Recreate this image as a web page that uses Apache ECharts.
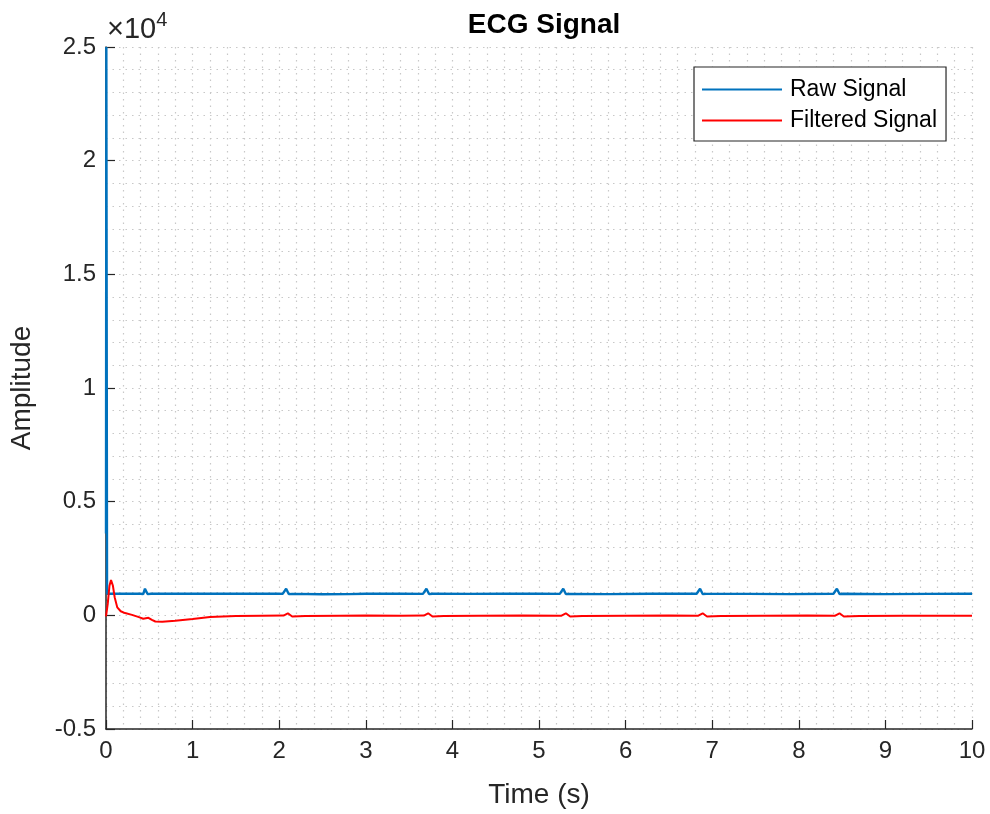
<!DOCTYPE html>
<html>
<head>
<meta charset="utf-8">
<script src="https://cdn.jsdelivr.net/npm/echarts@6/dist/echarts.min.js"></script>
<style>
  html, body { margin: 0; padding: 0; background: #fff; }
  #chart { width: 990px; height: 814px; }
</style>
</head>
<body>
<div id="chart"></div>
<script>
// raw ECG samples (time in s, amplitude)
const rawTime = [0, 0.004, 0.012, 0.2, 0.40, 0.43, 0.45, 0.48, 0.52, 1.0, 1.5, 2.0, 2.04, 2.06, 2.08, 2.11, 2.15, 2.5, 2.8, 3.0, 3.4, 3.66, 3.68, 3.70, 3.73, 3.77, 4.2, 4.6, 5.0, 5.24, 5.26, 5.28, 5.31, 5.35, 5.8, 6.3, 6.82, 6.84, 6.86, 6.89, 6.93, 7.4, 7.9, 8.40, 8.42, 8.44, 8.47, 8.51, 9.0, 9.5, 10.0]
const rawValue = [3600, 25000, 950, 955, 950, 930, 1170, 935, 950, 955, 950, 950, 945, 930, 1170, 935, 945, 930, 935, 950, 950, 945, 930, 1170, 935, 950, 945, 955, 950, 945, 930, 1170, 935, 945, 935, 950, 950, 930, 1170, 935, 945, 945, 935, 950, 930, 1170, 935, 950, 935, 945, 950]

// filtered signal
const filtTime = [0, 0.02, 0.04, 0.058, 0.08, 0.1, 0.13, 0.17, 0.22, 0.3, 0.38, 0.43, 0.49, 0.53, 0.57, 0.65, 0.8, 1.0, 1.2, 1.5, 1.8, 2.05, 2.10, 2.15, 2.3, 2.7, 3.0, 3.4, 3.67, 3.72, 3.77, 3.9, 4.3, 4.8, 5.26, 5.31, 5.36, 5.5, 6.0, 6.5, 6.84, 6.89, 6.94, 7.1, 7.6, 8.1, 8.42, 8.47, 8.52, 8.7, 9.2, 9.6, 10.0]
const filtValue = [-50, 500, 1300, 1550, 1300, 800, 350, 180, 100, 20, -80, -150, -110, -200, -270, -280, -240, -160, -70, -30, -15, -10, 90, -50, -30, -15, -10, -20, -10, 90, -50, -30, -20, -10, -15, 90, -50, -30, -20, -10, -15, 90, -50, -30, -20, -10, -15, 90, -50, -30, -20, -15, -20]

const yTicks = ['-0.5', '0', '0.5', '1', '1.5', '2', '2.5']

const textColor = '#262626'
const fontFamily = 'Liberation Sans, Arial, sans-serif'
const gridDots = { color: '#c8c8c8', width: 1.2, type: [1.5, 5] }

const chart = echarts.init(document.getElementById('chart'))

chart.setOption({
  backgroundColor: '#fff',
  animation: false,
  title: {
    text: 'ECG Signal',
    left: 539,
    textAlign: 'center',
    top: 6,
    textStyle: { fontSize: 28, fontWeight: 'bold', color: '#000', fontFamily: fontFamily }
  },
  legend: {
    orient: 'vertical',
    left: 694,
    top: 67,
    padding: [11, 9, 9, 8],
    itemGap: 8,
    itemWidth: 80,
    itemHeight: 2,
    icon: 'rect',
    borderColor: '#262626',
    borderWidth: 1.2,
    backgroundColor: '#fff',
    textStyle: { fontSize: 23, color: '#000', fontFamily: fontFamily, padding: [0, 0, 0, 3] },
    data: ['Raw Signal', 'Filtered Signal']
  },
  grid: { left: 106, right: 18, top: 47, bottom: 85 },
  graphic: [{
    type: 'text',
    left: 107,
    top: 10,
    style: {
      text: '{a|×10}{b|4}',
      rich: {
        a: { fontSize: 29, fill: textColor, fontFamily: fontFamily, verticalAlign: 'bottom' },
        b: { fontSize: 20, fill: textColor, fontFamily: fontFamily, verticalAlign: 'top', padding: [0, 0, 14, 0] }
      }
    }
  }],
  xAxis: {
    type: 'value',
    min: 0,
    max: 10,
    interval: 1,
    name: 'Time (s)',
    nameLocation: 'middle',
    nameGap: 52,
    nameTextStyle: { fontSize: 28, color: textColor, fontFamily: fontFamily },
    axisLine: { onZero: false, lineStyle: { color: textColor, width: 1.5 } },
    axisTick: { inside: true, length: 9, lineStyle: { color: textColor, width: 1.2 } },
    axisLabel: { fontSize: 24, color: textColor, fontFamily: fontFamily, margin: 10 },
    splitLine: { show: true, lineStyle: gridDots },
    minorTick: { show: false, splitNumber: 5 },
    minorSplitLine: { show: true, lineStyle: gridDots }
  },
  yAxis: {
    type: 'value',
    min: -5000,
    max: 25000,
    interval: 5000,
    name: 'Amplitude',
    nameLocation: 'middle',
    nameGap: 70,
    nameTextStyle: { fontSize: 28, color: textColor, fontFamily: fontFamily },
    axisLine: { show: true, onZero: false, lineStyle: { color: textColor, width: 1.5 } },
    axisTick: { show: true, inside: true, length: 9, lineStyle: { color: textColor, width: 1.2 } },
    axisLabel: {
      fontSize: 24, color: textColor, fontFamily: fontFamily, margin: 10,
      formatter: function (v) { return yTicks[Math.round((v + 5000) / 5000)] }
    },
    splitLine: { show: true, lineStyle: gridDots },
    minorTick: { show: false, splitNumber: 5 },
    minorSplitLine: { show: true, lineStyle: gridDots }
  },
  series: [
    {
      name: 'Raw Signal',
      type: 'line',
      showSymbol: false,
      symbol: 'none',
      color: '#0072BD',
      lineStyle: { width: 2.4, color: '#0072BD' },
      data: rawTime.map((t, i) => [t, rawValue[i]])
    },
    {
      name: 'Filtered Signal',
      type: 'line',
      showSymbol: false,
      symbol: 'none',
      color: '#FF0000',
      lineStyle: { width: 2, color: '#FF0000' },
      data: filtTime.map((t, i) => [t, filtValue[i]])
    }
  ]
})
</script>
</body>
</html>
